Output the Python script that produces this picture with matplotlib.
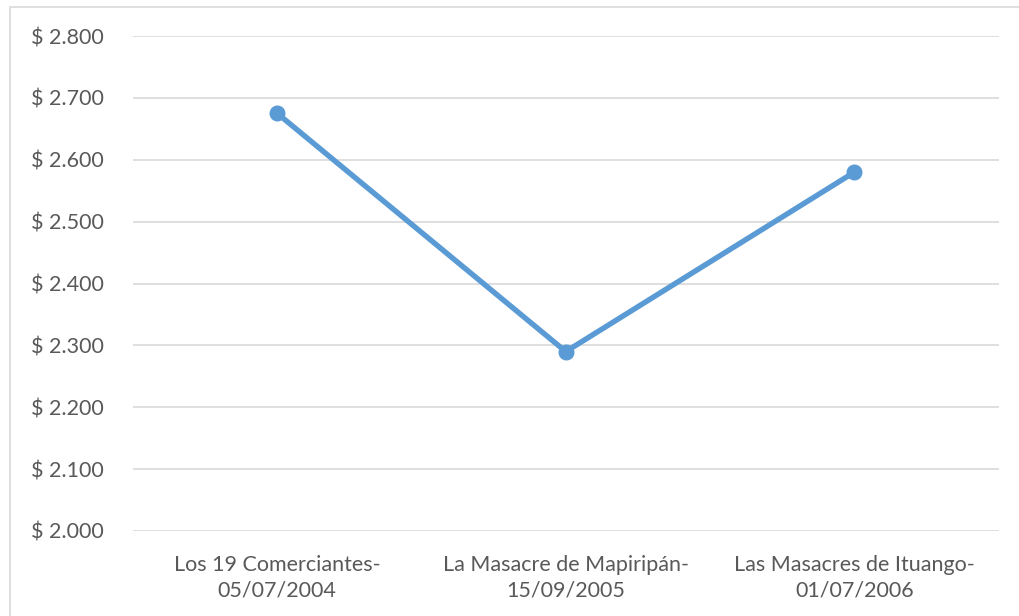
import matplotlib.pyplot as plt
from matplotlib.patches import Rectangle
from matplotlib.ticker import FuncFormatter

## data
casos = ['Los 19 Comerciantes-\n05/07/2004',
         'La Masacre de Mapiripán-\n15/09/2005',
         'Las Masacres de Ituango-\n01/07/2006']
valores = [2.675, 2.290, 2.580]
yticks = [2.0, 2.1, 2.2, 2.3, 2.4, 2.5, 2.6, 2.7, 2.8]

plt.rcParams['font.family'] = ['Lato', 'DejaVu Sans']

fig = plt.figure(figsize=(10.19, 6.16), dpi=100)
ax = fig.add_axes([0.1305, 0.138, 0.8495, 0.8035])

## chart border
fig.patches.append(Rectangle((10 / 1019, -0.1), 1.2, 1 - 7 / 616 + 0.1,
                             transform=fig.transFigure, fill=False,
                             edgecolor='#d9d9d9', linewidth=1.2))

x = range(len(casos))
ax.plot(x, valores, color='#5B9BD5', linewidth=3.9, marker='o',
        markersize=10.5, solid_capstyle='round', zorder=3)

ax.set_xlim(-0.5, 2.5)
ax.set_ylim(2.0, 2.8)
ax.set_yticks(yticks)
ax.yaxis.set_major_formatter(FuncFormatter(lambda v, p: '$ ' + f'{v:.3f}'))
ax.set_xticks(list(x))
ax.set_xticklabels(casos, linespacing=1.38)

ax.grid(axis='y', color='#d9d9d9', linewidth=1.2)
ax.set_axisbelow(True)
for s in ax.spines.values():
    s.set_visible(False)
ax.tick_params(axis='both', length=0, labelsize=15.5, labelcolor='#595959')
ax.tick_params(axis='y', pad=21)
ax.tick_params(axis='x', pad=17)

plt.savefig('out.png', dpi=100)
